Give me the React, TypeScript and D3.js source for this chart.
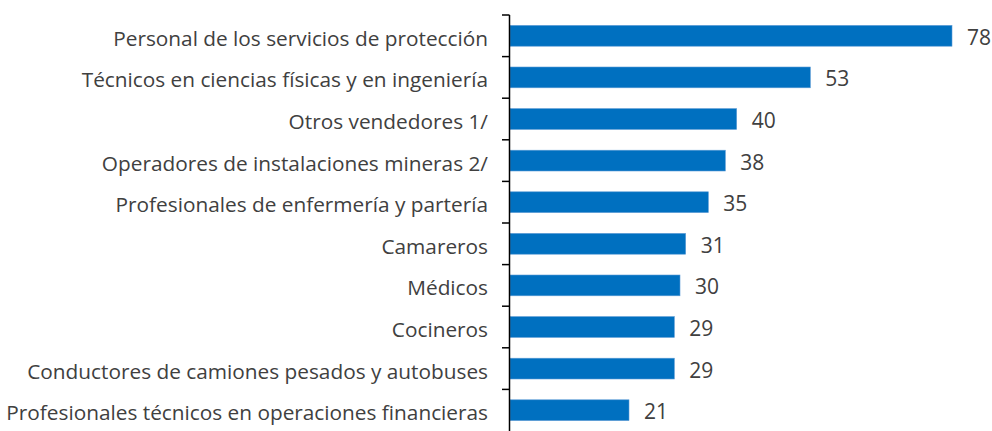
import * as d3 from "d3";

const categories = [
  "Personal de los servicios de protección",
  "Técnicos en ciencias físicas y en ingeniería",
  "Otros vendedores 1/",
  "Operadores de instalaciones mineras 2/",
  "Profesionales de enfermería y partería",
  "Camareros",
  "Médicos",
  "Cocineros",
  "Conductores de camiones pesados y autobuses",
  "Profesionales técnicos en operaciones financieras",
];
const values = [78, 53, 40, 38, 35, 31, 30, 29, 29, 21];

const width = 992;
const height = 431;
const FONT = "'Open Sans', sans-serif";
const TEXT = "#404040";

export default function App() {
  const axisX = 509.5;
  const x = d3.scaleLinear().domain([0, 78]).range([510, 952]);
  const y = d3.scaleBand<string>().domain(categories).range([15, 431]).paddingInner(0.5).paddingOuter(0.25);
  const band = d3.scaleBand<string>().domain(categories).range([15, 431]);

  return (
    <div style={{ position: "absolute", left: 0, top: 0 }}>
      <svg width={width} height={height} style={{ display: "block", fontFamily: FONT }}>
        <rect width={width} height={height} fill="#fff" />
        {categories.map((c, i) => (
          <g key={c}>
            <rect
              x={x(0)}
              y={y(c)!}
              width={x(values[i]) - x(0)}
              height={y.bandwidth()}
              fill="#0070C0"
              stroke="#5B9BD5"
              strokeWidth={0.6}
            />
            <text
              x={x(values[i]) + 15}
              y={y(c)! + y.bandwidth() / 2}
              dy="0.43em"
              fontSize={21}
              fill={TEXT}
            >
              {values[i]}
            </text>
            <text
              x={488}
              y={band(c)! + band.bandwidth() / 2}
              dy="0.48em"
              textAnchor="end"
              fontSize={20.8}
              fill={TEXT}
            >
              {c}
            </text>
          </g>
        ))}
        {categories.map((c) => (
          <line key={"t" + c} x1={502} x2={axisX} y1={band(c)!} y2={band(c)!} stroke="#000" strokeWidth={1.5} />
        ))}
        <line x1={axisX} x2={axisX} y1={15} y2={height} stroke="#000" strokeWidth={1.5} />
      </svg>
    </div>
  );
}
